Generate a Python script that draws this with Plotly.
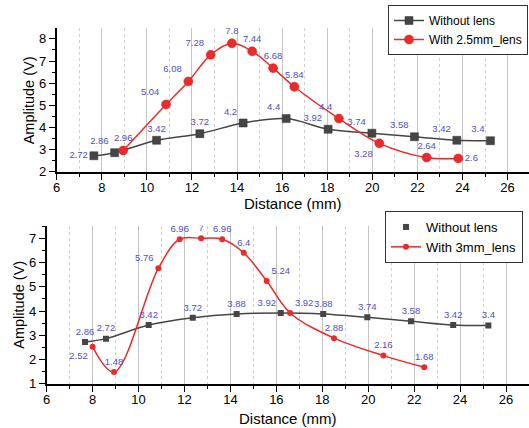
import plotly.graph_objects as go

# ---------------- data ----------------
top_x_without = [7.65, 8.57, 10.43, 12.35, 14.27, 16.18, 18.04, 19.98, 21.87, 23.75, 25.24]
top_y_without = [2.72, 2.86, 3.42, 3.72, 4.2, 4.4, 3.92, 3.74, 3.58, 3.42, 3.4]
top_lbl_without = ["2.72", "2.86", "3.42", "3.72", "4.2", "4.4", "3.92", "3.74", "3.58", "3.42", "3.4"]

top_x_lens = [8.95, 10.85, 11.84, 12.83, 13.77, 14.67, 15.6, 16.54, 18.52, 20.31, 22.41, 23.81]
top_y_lens = [2.96, 5.04, 6.08, 7.28, 7.8, 7.44, 6.68, 5.84, 4.4, 3.28, 2.64, 2.6]
top_lbl_lens = ["2.96", "5.04", "6.08", "7.28", "7.8", "7.44", "6.68", "5.84", "4.4", "3.28", "2.64", "2.6"]

bot_x_without = [7.67, 8.58, 10.44, 12.36, 14.27, 16.19, 18.04, 19.96, 21.86, 23.7, 25.23]
bot_y_without = [2.72, 2.86, 3.42, 3.72, 3.88, 3.92, 3.88, 3.74, 3.58, 3.42, 3.4]
bot_lbl_without = ["2.86", "2.72", "3.42", "3.72", "3.88", "3.92", "3.88", "3.74", "3.58", "3.42", "3.4"]

bot_x_lens = [8.0, 8.93, 10.86, 11.79, 12.72, 13.64, 14.58, 15.58, 16.6, 18.51, 20.66, 22.44]
bot_y_lens = [2.52, 1.48, 5.76, 6.96, 7.0, 6.96, 6.4, 5.24, 3.92, 2.88, 2.16, 1.68]
bot_lbl_lens = ["2.52", "1.48", "5.76", "6.96", "7", "6.96", "6.4", "5.24", "3.92", "2.88", "2.16", "1.68"]

x_ticks = [6, 8, 10, 12, 14, 16, 18, 20, 22, 24, 26]
top_y_ticks = [2, 3, 4, 5, 6, 7, 8]
bot_y_ticks = [1, 2, 3, 4, 5, 6, 7]

# ---------------- style ----------------
FONT = "Liberation Sans, Arial, sans-serif"
BLACK = "#454545"
RED = "#ec2a2a"
LBL = "#5050cc"

top_pos_without = ["middle left", "top left", "top center", "top center", "top left", "top left",
                   "top left", "top left", "top left", "top left", "top left"]
top_pos_lens = ["top center", "top left", "top left", "top left", "top center", "top center",
                "top center", "top center", "top left", "bottom left", "top center", "middle right"]
bot_pos_without = ["top center"] * 5 + ["top left"] + ["top center"] * 5
bot_pos_lens = ["bottom left", "top center", "top left", "top center", "top center", "top center",
                "top center", "top right", "top right", "top center", "top center", "top center"]

fig = go.Figure()

# top panel
fig.add_trace(go.Scatter(
    x=top_x_without, y=top_y_without, mode="lines+markers+text", name="Without lens",
    line=dict(color=BLACK, width=1.5, shape="spline", smoothing=1),
    marker=dict(symbol="square", size=8, color=BLACK, line=dict(color="#333", width=0.5)),
    text=top_lbl_without, textposition=top_pos_without,
    textfont=dict(family=FONT, size=9.5, color=LBL),
    xaxis="x", yaxis="y", legend="legend"))
fig.add_trace(go.Scatter(
    x=top_x_lens, y=top_y_lens, mode="lines+markers+text", name="With 2.5mm_lens",
    line=dict(color=RED, width=1.5, shape="spline", smoothing=1),
    marker=dict(symbol="circle", size=9, color=RED, line=dict(color="#d01818", width=0.5)),
    text=top_lbl_lens, textposition=top_pos_lens,
    textfont=dict(family=FONT, size=9.5, color=LBL),
    xaxis="x", yaxis="y", legend="legend"))

# bottom panel
fig.add_trace(go.Scatter(
    x=bot_x_without, y=bot_y_without, mode="lines", showlegend=False,
    line=dict(color=BLACK, width=1.5, shape="spline", smoothing=1),
    xaxis="x2", yaxis="y2", hoverinfo="skip"))
fig.add_trace(go.Scatter(
    x=bot_x_without, y=bot_y_without, mode="markers+text", name="Without lens",
    marker=dict(symbol="square", size=6, color=BLACK),
    text=bot_lbl_without, textposition=bot_pos_without,
    textfont=dict(family=FONT, size=9.5, color=LBL),
    xaxis="x2", yaxis="y2", legend="legend2"))
fig.add_trace(go.Scatter(
    x=bot_x_lens, y=bot_y_lens, mode="lines+markers+text", name="With 3mm_lens",
    line=dict(color=RED, width=1.5, shape="spline", smoothing=1),
    marker=dict(symbol="circle", size=6, color=RED),
    text=bot_lbl_lens, textposition=bot_pos_lens,
    textfont=dict(family=FONT, size=9.5, color=LBL),
    xaxis="x2", yaxis="y2", legend="legend2"))

W, H = 529, 428


def xax(domain, anchor, rng):
    return dict(domain=domain, anchor=anchor, range=rng, tickvals=x_ticks,
                showline=True, linecolor="black", linewidth=1.6, mirror=False,
                ticks="outside", ticklen=6, tickwidth=1.2, tickcolor="black",
                ticklabelstandoff=-3,
                tickfont=dict(family=FONT, size=13, color="black"),
                showgrid=True, gridcolor="#c4c4c4", gridwidth=1.3,
                minor=dict(dtick=1, tick0=7, ticks="outside", ticklen=3, tickcolor="black",
                           showgrid=True, gridcolor="#d0d0d0", griddash="dot", gridwidth=1),
                zeroline=False, automargin=False)


def yax(domain, anchor, rng, tv):
    return dict(domain=domain, anchor=anchor, range=rng, tickvals=tv,
                showline=True, linecolor="black", linewidth=1.6,
                ticks="outside", ticklen=6, tickwidth=1.2, tickcolor="black",
                tickfont=dict(family=FONT, size=13, color="black"),
                showgrid=False, zeroline=False, automargin=False,
                minor=dict(dtick=0.5, ticks="outside", ticklen=3, tickcolor="black", showgrid=False))


fig.update_layout(
    width=W, height=H,
    margin=dict(l=0, r=0, t=0, b=0),
    paper_bgcolor="white", plot_bgcolor="white",
    font=dict(family=FONT, color="black"),
    xaxis=xax([56.7 / W, 1.0], "y", [6, 26.95]),
    yaxis=yax([1 - 171.7 / H, 1 - 28.3 / H], "x", [2, 8.48], top_y_ticks),
    xaxis2=xax([46.7 / W, 1.0], "y2", [6, 27.0]),
    yaxis2=yax([1 - 383.7 / H, 1 - 225.7 / H], "x2", [1, 7.52], bot_y_ticks),
    legend=dict(x=388 / W, y=1 - 5 / H, xanchor="left", yanchor="top",
                bgcolor="white", bordercolor="#333", borderwidth=1,
                font=dict(family=FONT, size=12, color="black"), tracegroupgap=0),
    legend2=dict(x=385 / W, y=1 - 211 / H, xanchor="left", yanchor="top",
                 bgcolor="white", bordercolor="#333", borderwidth=1,
                 font=dict(family=FONT, size=13, color="black"), tracegroupgap=0),
    showlegend=True,
    annotations=[
        dict(text="Distance (mm)", x=292.9 / W, y=1 - 203 / H, xref="paper", yref="paper",
             showarrow=False, font=dict(family=FONT, size=15), xanchor="center", yanchor="middle"),
        dict(text="Amplitude (V)", x=29.3 / W, y=1 - 100 / H, xref="paper", yref="paper",
             showarrow=False, textangle=-90, font=dict(family=FONT, size=14.5),
             xanchor="center", yanchor="middle"),
        dict(text="Distance (mm)", x=287.8 / W, y=1 - 418 / H, xref="paper", yref="paper",
             showarrow=False, font=dict(family=FONT, size=15), xanchor="center", yanchor="middle"),
        dict(text="Amplitude (V)", x=18.7 / W, y=1 - 305 / H, xref="paper", yref="paper",
             showarrow=False, textangle=-90, font=dict(family=FONT, size=14.5),
             xanchor="center", yanchor="middle"),
    ],
)

fig.write_html("out.html", config={"displayModeBar": False},
               post_script="document.body.style.margin='0';document.body.style.overflow='hidden';")
